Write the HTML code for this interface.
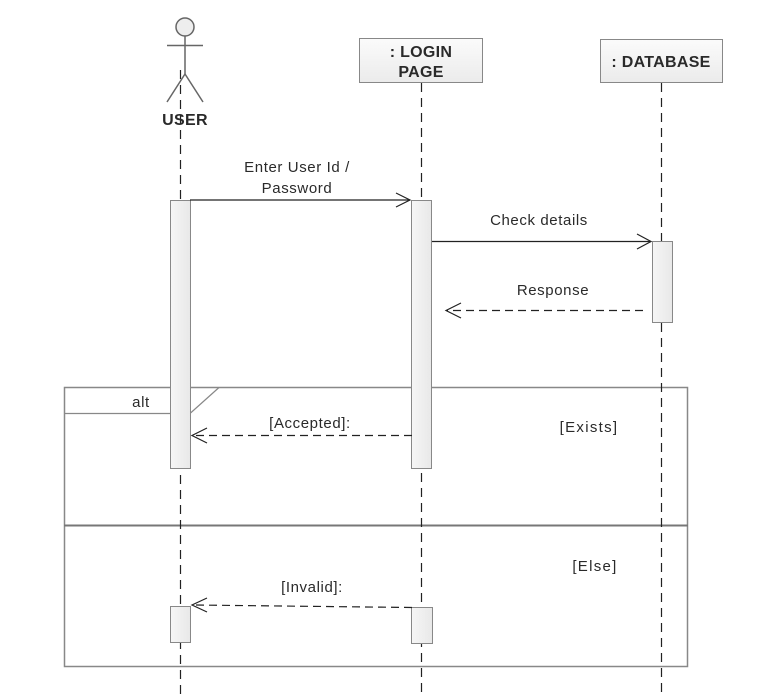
<!DOCTYPE html>
<html><head><meta charset="utf-8"><style>
html,body{margin:0;padding:0;background:#fff;}
svg{display:block;}
text{font-family:"Liberation Sans",Arial,sans-serif;fill:#2a2a2a;}
.m{font-size:15px;letter-spacing:0.6px;}
.w{font-size:15px;letter-spacing:1.3px;}
.b{font-size:16px;font-weight:bold;letter-spacing:0.3px;}
</style></head><body>
<svg width="780" height="696" viewBox="0 0 780 696" xmlns="http://www.w3.org/2000/svg">
<defs>
<linearGradient id="g" x1="0" y1="0" x2="0" y2="1"><stop offset="0" stop-color="#fbfbfb"/><stop offset="1" stop-color="#ebebeb"/></linearGradient>
<linearGradient id="ga" x1="0" y1="0" x2="1" y2="0"><stop offset="0" stop-color="#f6f6f6"/><stop offset="1" stop-color="#e8e8e8"/></linearGradient>
</defs>
<rect x="64.5" y="387.5" width="623" height="279" fill="none" stroke="#888" stroke-width="1.5"/>
<line x1="64" y1="525.5" x2="688" y2="525.5" stroke="#777" stroke-width="2"/>
<polyline points="64.5,413.5 190,413.5 219,387.5" fill="none" stroke="#888" stroke-width="1.2"/>
<text x="141" y="407" class="m" text-anchor="middle">alt</text>
<text x="589" y="432" class="w" text-anchor="middle">[Exists]</text>
<text x="595" y="571" class="w" text-anchor="middle">[Else]</text>

<g stroke="#222" stroke-width="1.2" stroke-dasharray="9,6">
<line x1="180.5" y1="70" x2="180.5" y2="696"/>
<line x1="421.5" y1="83" x2="421.5" y2="696"/>
<line x1="661.5" y1="83" x2="661.5" y2="696"/>
</g>

<g stroke="#666" stroke-width="1.5" fill="none">
<circle cx="185" cy="27" r="9" fill="#eee"/>
<line x1="185" y1="36" x2="185" y2="74"/>
<line x1="167" y1="45.5" x2="203" y2="45.5"/>
<line x1="185" y1="74" x2="167" y2="102"/>
<line x1="185" y1="74" x2="203" y2="102"/>
</g>
<text x="185" y="125" class="b" text-anchor="middle">USER</text>

<rect x="359.5" y="38.5" width="123" height="44" fill="url(#g)" stroke="#888"/>
<text x="421" y="57" class="b" text-anchor="middle">: LOGIN</text>
<text x="421" y="77" class="b" text-anchor="middle">PAGE</text>
<rect x="600.5" y="39.5" width="122" height="43" fill="url(#g)" stroke="#888"/>
<text x="661" y="67" class="b" text-anchor="middle">: DATABASE</text>

<g fill="url(#ga)" stroke="#888">
<rect x="170.5" y="200.5" width="20" height="268"/>
<rect x="411.5" y="200.5" width="20" height="268"/>
<rect x="652.5" y="241.5" width="20" height="81"/>
<rect x="170.5" y="606.5" width="20" height="36"/>
<rect x="411.5" y="607.5" width="21" height="36"/>
</g>

<g stroke="#222" stroke-width="1.2" fill="none">
<line x1="190" y1="200" x2="410" y2="200"/>
<polyline points="396,193 410,200 396,207"/>
<line x1="432" y1="241.5" x2="651" y2="241.5"/>
<polyline points="637,234 651,241.5 637,249"/>
<line x1="643" y1="310.5" x2="447" y2="310.5" stroke-dasharray="8,5"/>
<polyline points="461,303 446,310.5 461,318"/>
<line x1="412" y1="435.5" x2="193" y2="435.5" stroke-dasharray="8,5"/>
<polyline points="207,428 192,435.5 207,443"/>
<line x1="412" y1="607.5" x2="193" y2="605" stroke-dasharray="8,5"/>
<polyline points="207,598 192,605 207,612"/>
</g>
<text x="297" y="172" class="m" text-anchor="middle">Enter User Id /</text>
<text x="297" y="193" class="m" text-anchor="middle">Password</text>
<text x="539" y="225" class="m" text-anchor="middle">Check details</text>
<text x="553" y="295" class="m" text-anchor="middle">Response</text>
<text x="310" y="428" class="m" text-anchor="middle">[Accepted]:</text>
<text x="312" y="592" class="m" text-anchor="middle">[Invalid]:</text>
</svg>
</body></html>
